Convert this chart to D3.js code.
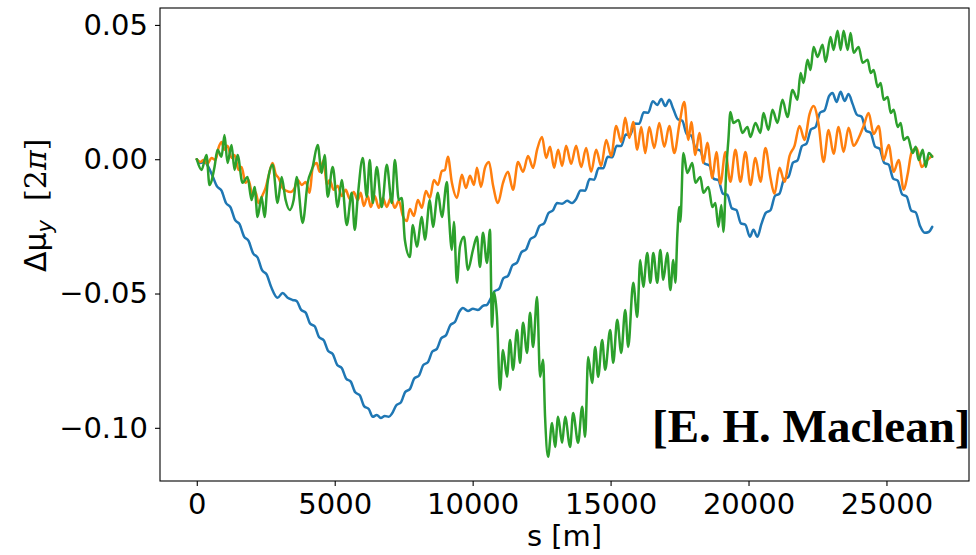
<!DOCTYPE html>
<html><head><meta charset="utf-8">
<script src="https://cdn.jsdelivr.net/npm/d3@7"></script>
<style>body{margin:0;background:#fff} svg{display:block}</style>
</head><body>
<svg id="c" width="976" height="555"></svg>
<script>
const xTicks = [0,5000,10000,15000,20000,25000];
const yTicks = [0.05,0.00,-0.05,-0.10];
const seriesNames = ["blue","orange","green"];
const seriesColors = ["#1f77b4","#ff7f0e","#2ca02c"];

// s [m], Δμy [2π]
const blue = [[0,0],[134,-0.0014],[280,-0.0010],[425,-0.0029],[570,-0.0062],[733,-0.0101],[897,-0.0117],[1060,-0.0163],[1224,-0.0179],[1387,-0.0226],[1550,-0.0242],[1714,-0.0288],[1877,-0.0304],[2041,-0.0350],[2204,-0.0366],[2367,-0.0413],[2531,-0.0429],[2694,-0.0475],[2930,-0.0516],[3112,-0.0498],[3293,-0.0516],[3475,-0.0524],[3620,-0.0528],[3784,-0.0561],[3947,-0.0571],[4110,-0.0612],[4274,-0.0622],[4437,-0.0663],[4601,-0.0674],[4764,-0.0714],[4927,-0.0725],[5091,-0.0766],[5254,-0.0777],[5418,-0.0817],[5581,-0.0828],[5744,-0.0868],[5908,-0.0879],[6071,-0.0920],[6234,-0.0930],[6380,-0.0959],[6525,-0.0952],[6670,-0.0963],[6816,-0.0956],[6961,-0.0959],[7070,-0.0948],[7233,-0.0916],[7396,-0.0906],[7560,-0.0866],[7723,-0.0856],[7887,-0.0816],[8050,-0.0806],[8213,-0.0766],[8377,-0.0756],[8540,-0.0716],[8704,-0.0706],[8867,-0.0666],[9030,-0.0656],[9194,-0.0617],[9357,-0.0606],[9521,-0.0567],[9648,-0.0554],[9829,-0.0565],[10011,-0.0557],[10192,-0.0561],[10374,-0.0546],[10519,-0.0542],[10628,-0.0524],[10791,-0.0492],[10955,-0.0483],[11118,-0.0443],[11282,-0.0434],[11445,-0.0395],[11608,-0.0385],[11772,-0.0346],[11935,-0.0336],[12098,-0.0297],[12262,-0.0287],[12425,-0.0248],[12589,-0.0239],[12752,-0.0200],[12915,-0.0190],[13061,-0.0163],[13242,-0.0166],[13424,-0.0155],[13605,-0.0163],[13751,-0.0148],[13914,-0.0116],[14077,-0.0117],[14241,-0.0074],[14404,-0.0076],[14568,-0.0033],[14731,-0.0034],[14894,0.0009],[15058,0.0007],[15221,0.0050],[15384,0.0049],[15548,0.0092],[15711,0.0090],[15875,0.0133],[16038,0.0132],[16201,0.0175],[16365,0.0173],[16528,0.0216],[16692,0.0202],[16837,0.0224],[16982,0.0198],[17127,0.0221],[17273,0.0187],[17436,0.0149],[17600,0.0143],[17763,0.0093],[17926,0.0088],[18090,0.0038],[18253,0.0032],[18417,-0.0017],[18580,-0.0023],[18743,-0.0073],[18907,-0.0078],[19070,-0.0128],[19234,-0.0133],[19397,-0.0183],[19560,-0.0189],[19724,-0.0239],[19887,-0.0244],[20050,-0.0289],[20178,-0.0263],[20323,-0.0289],[20468,-0.0241],[20632,-0.0199],[20795,-0.0190],[20958,-0.0137],[21122,-0.0128],[21285,-0.0075],[21448,-0.0066],[21612,-0.0013],[21775,-0.0004],[21939,0.0049],[22102,0.0058],[22265,0.0111],[22429,0.0120],[22592,0.0173],[22756,0.0182],[22919,0.0235],[23046,0.0247],[23191,0.0213],[23337,0.0251],[23482,0.0217],[23627,0.0243],[23772,0.0206],[23936,0.0165],[24099,0.0158],[24262,0.0106],[24426,0.0098],[24589,0.0047],[24753,0.0039],[24916,-0.0013],[25079,-0.0020],[25243,-0.0072],[25406,-0.0080],[25570,-0.0131],[25733,-0.0139],[25896,-0.0191],[26060,-0.0198],[26223,-0.0250],[26387,-0.0274],[26532,-0.0271],[26659,-0.0252]];

const orange = [[0,0],[134,-0.0010],[243,-0.0003],[389,-0.0017],[534,0.0005],[679,-0.0003],[788,0.0042],[897,0.0064],[1005,0.0035],[1114,0.0050],[1260,0.0005],[1369,0.0016],[1514,-0.0040],[1623,-0.0029],[1768,-0.0088],[1877,-0.0077],[2023,-0.0137],[2131,-0.0122],[2240,-0.0163],[2386,-0.0133],[2495,-0.0107],[2603,-0.0062],[2749,-0.0014],[2858,-0.0055],[2967,-0.0070],[3112,-0.0107],[3257,-0.0118],[3402,-0.0122],[3548,-0.0107],[3656,-0.0077],[3802,-0.0096],[3947,-0.0085],[4092,-0.0125],[4201,-0.0032],[4346,-0.0014],[4455,-0.0047],[4601,-0.0003],[4710,-0.0096],[4818,-0.0077],[4964,-0.0114],[5109,-0.0099],[5254,-0.0137],[5400,-0.0114],[5545,-0.0148],[5690,-0.0122],[5835,-0.0152],[5944,-0.0125],[6053,-0.0174],[6198,-0.0137],[6307,-0.0178],[6452,-0.0137],[6598,-0.0181],[6743,-0.0144],[6888,-0.0178],[7033,-0.0144],[7179,-0.0181],[7324,-0.0155],[7469,-0.0211],[7614,-0.0230],[7723,-0.0185],[7869,-0.0211],[8014,-0.0152],[8159,-0.0181],[8305,-0.0118],[8450,-0.0144],[8595,-0.0077],[8740,-0.0096],[8885,-0.0044],[8994,-0.0040],[9103,0.0009],[9248,-0.0088],[9430,-0.0144],[9611,-0.0058],[9756,-0.0107],[9902,-0.0062],[10047,-0.0096],[10156,-0.0032],[10301,-0.0103],[10446,-0.0032],[10592,-0.0010],[10737,-0.0096],[10918,-0.0163],[11100,-0.0088],[11281,-0.0047],[11463,-0.0114],[11645,-0.0010],[11826,-0.0047],[12008,0.0012],[12190,-0.0032],[12335,0.0035],[12516,0.0083],[12662,0.0005],[12807,0.0046],[12952,-0.0032],[13098,0.0035],[13243,-0.0025],[13388,0.0050],[13570,-0.0017],[13751,0.0050],[13933,-0.0029],[14114,0.0042],[14296,-0.0047],[14477,0.0035],[14659,-0.0025],[14840,0.0072],[15022,0.0012],[15203,0.0124],[15385,0.0064],[15530,0.0154],[15675,0.0079],[15821,0.0139],[15966,0.0035],[16111,0.0120],[16256,0.0023],[16402,0.0120],[16583,0.0042],[16765,0.0135],[16947,0.0046],[17128,0.0124],[17310,0.0023],[17491,0.0128],[17673,0.0213],[17818,0.0072],[17927,0.0139],[18072,0.0016],[18218,0.0098],[18363,-0.0014],[18508,0.0061],[18690,-0.0070],[18835,0.0027],[18980,-0.0092],[19162,0.0027],[19343,-0.0084],[19525,0.0035],[19707,-0.0084],[19888,0.0027],[20070,-0.0096],[20251,0.0005],[20433,-0.0084],[20614,0.0042],[20796,-0.0070],[20941,-0.0129],[21123,-0.0032],[21304,-0.0084],[21486,0.0012],[21667,0.0050],[21849,0.0124],[22030,0.0072],[22212,0.0168],[22357,0.0198],[22539,0.0131],[22720,-0.0010],[22902,0.0109],[23083,0.0020],[23265,0.0120],[23446,0.0027],[23628,0.0117],[23809,0.0050],[23991,0.0079],[24172,0.0124],[24354,0.0172],[24535,0.0094],[24717,0.0124],[24899,-0.0003],[25080,0.0053],[25262,-0.0047],[25443,-0.0003],[25625,-0.0114],[25770,-0.0055],[25915,0.0027],[26097,0.0042],[26278,-0.0029],[26423,-0.0010],[26569,0.0005],[26659,0.0012]];

const green = [[0,0],[171,-0.0040],[352,0.0016],[461,-0.0096],[643,-0.0029],[752,0.0035],[897,0.0009],[1005,0.0090],[1114,-0.0014],[1260,0.0053],[1369,-0.0040],[1478,0.0016],[1659,-0.0088],[1841,-0.0066],[1986,-0.0152],[2095,-0.0103],[2204,-0.0215],[2349,-0.0140],[2458,-0.0215],[2567,-0.0088],[2749,-0.0021],[2930,-0.0163],[3075,-0.0066],[3221,-0.0152],[3366,-0.0189],[3511,-0.0152],[3620,-0.0066],[3838,-0.0237],[4019,-0.0088],[4201,-0.0029],[4383,0.0053],[4528,-0.0051],[4637,0.0016],[4746,-0.0140],[4927,-0.0029],[5109,-0.0178],[5254,-0.0077],[5436,-0.0245],[5617,-0.0125],[5726,-0.0263],[5835,-0.0140],[6017,0.0005],[6162,-0.0140],[6271,-0.0003],[6380,-0.0163],[6525,-0.0029],[6707,-0.0178],[6888,-0.0021],[7070,-0.0163],[7179,-0.0003],[7324,-0.0152],[7433,-0.0144],[7542,-0.0300],[7723,-0.0364],[7832,-0.0245],[7977,-0.0326],[8159,-0.0215],[8268,-0.0300],[8450,-0.0152],[8559,-0.0252],[8740,-0.0125],[8885,-0.0215],[9067,-0.0085],[9139,-0.0208],[9248,-0.0338],[9321,-0.0233],[9430,-0.0460],[9539,-0.0326],[9684,-0.0289],[9829,-0.0412],[10011,-0.0338],[10156,-0.0289],[10265,-0.0401],[10374,-0.0274],[10519,-0.0386],[10628,-0.0263],[10701,-0.0624],[10773,-0.0494],[10882,-0.0587],[10991,-0.0859],[11100,-0.0710],[11245,-0.0810],[11354,-0.0673],[11463,-0.0784],[11608,-0.0636],[11717,-0.0758],[11826,-0.0609],[11972,-0.0721],[12081,-0.0572],[12190,-0.0699],[12335,-0.0513],[12444,-0.0810],[12553,-0.0747],[12625,-0.0959],[12734,-0.1108],[12879,-0.0982],[12988,-0.1071],[13097,-0.0959],[13243,-0.1056],[13352,-0.0959],[13533,-0.1071],[13642,-0.0945],[13824,-0.1056],[13969,-0.0922],[14078,-0.1033],[14187,-0.0736],[14332,-0.0833],[14441,-0.0699],[14550,-0.0810],[14695,-0.0673],[14804,-0.0784],[14986,-0.0636],[15095,-0.0758],[15240,-0.0598],[15385,-0.0721],[15530,-0.0561],[15639,-0.0699],[15821,-0.0460],[15966,-0.0587],[16075,-0.0375],[16184,-0.0475],[16330,-0.0349],[16439,-0.0460],[16548,-0.0349],[16693,-0.0460],[16802,-0.0338],[16911,-0.0449],[17056,-0.0349],[17165,-0.0487],[17274,-0.0375],[17347,-0.0460],[17419,-0.0282],[17492,-0.0178],[17528,-0.0233],[17637,0.0023],[17782,-0.0051],[17963,-0.0014],[18072,-0.0088],[18254,-0.0066],[18363,-0.0125],[18544,-0.0103],[18690,-0.0178],[18798,-0.0163],[18907,-0.0252],[19016,-0.0170],[19089,-0.0271],[19198,-0.0029],[19270,0.0072],[19343,0.0176],[19452,0.0135],[19634,0.0146],[19779,0.0098],[19960,0.0120],[20069,0.0083],[20251,0.0135],[20432,0.0098],[20541,0.0172],[20723,0.0109],[20868,0.0184],[21050,0.0135],[21231,0.0221],[21413,0.0157],[21594,0.0258],[21776,0.0221],[21885,0.0321],[21994,0.0284],[22139,0.0370],[22248,0.0332],[22357,0.0418],[22502,0.0381],[22684,0.0426],[22793,0.0362],[22974,0.0455],[23083,0.0407],[23229,0.0478],[23337,0.0407],[23446,0.0478],[23592,0.0407],[23700,0.0470],[23809,0.0396],[23991,0.0418],[24136,0.0359],[24318,0.0370],[24427,0.0321],[24536,0.0332],[24681,0.0269],[24790,0.0284],[24899,0.0221],[25044,0.0232],[25153,0.0172],[25262,0.0184],[25407,0.0120],[25516,0.0135],[25625,0.0072],[25770,0.0083],[25952,0.0023],[26061,0.0046],[26170,-0.0003],[26315,0.0035],[26424,-0.0029],[26533,0.0023],[26659,0.0009]];

const W = 976, H = 555;
const L = 160, R = 969, T = 8, B = 481;
const FONT = "'DejaVu Sans', sans-serif";

const svg = d3.select("#c");
const x = d3.scaleLinear().domain([-1333, 27992]).range([L, R]);
const y = d3.scaleLinear().domain([-0.1198, 0.0563]).range([B, T]);

const line = d3.line().curve(d3.curveMonotoneX).x(d => x(d[0])).y(d => y(d[1]));
const data = [blue, orange, green];
const g = svg.append("g");
data.forEach((d, i) => {
  g.append("path").datum(d)
    .attr("d", line)
    .attr("fill", "none")
    .attr("stroke", seriesColors[i])
    .attr("stroke-width", 2.5)
    .attr("stroke-linejoin", "round")
    .attr("stroke-linecap", "round");
});

// annotation
svg.append("text")
  .attr("x", 652).attr("y", 442)
  .attr("font-family", "'Liberation Serif', 'Times New Roman', serif")
  .attr("font-weight", "bold")
  .attr("font-size", 47)
  .attr("fill", "#000")
  .text("[E. H. Maclean]");

// axes
const xAxis = d3.axisBottom(x).tickValues(xTicks).tickSize(5).tickPadding(7).tickFormat(d3.format("d"));
const yAxis = d3.axisLeft(y).tickValues(yTicks).tickSize(5).tickPadding(7).tickFormat(d3.format(".2f"));

const gx = svg.append("g").attr("transform", `translate(0,${B})`).call(xAxis);
const gy = svg.append("g").attr("transform", `translate(${L},0)`).call(yAxis);
[gx, gy].forEach(a => {
  a.select(".domain").remove();
  a.selectAll("line").attr("stroke", "#000").attr("stroke-width", 1.1);
  a.selectAll("text").attr("font-family", FONT).attr("font-size", 29).attr("fill", "#000");
});

// frame
svg.append("rect")
  .attr("x", L).attr("y", T).attr("width", R - L).attr("height", B - T)
  .attr("fill", "none").attr("stroke", "#000").attr("stroke-width", 1.1);

// axis labels
svg.append("text")
  .attr("x", (L + R) / 2).attr("y", 546)
  .attr("text-anchor", "middle")
  .attr("font-family", FONT).attr("font-size", 29).attr("fill", "#000")
  .text("s [m]");

const yl = svg.append("text")
  .attr("transform", "translate(46,272) rotate(-90)")
  .attr("font-family", FONT).attr("font-size", 30).attr("fill", "#000");
yl.append("tspan").text("Δμ");
yl.append("tspan").attr("font-style", "italic").attr("font-size", 21).attr("dy", 6).text("y");
yl.append("tspan").attr("dy", -6).text("\u00a0\u00a0");
yl.append("tspan").attr("font-family", "'DejaVu Serif', serif").text("[2");
yl.append("tspan").attr("font-family", "'DejaVu Serif', serif").attr("font-style", "italic").text("π");
yl.append("tspan").attr("font-family", "'DejaVu Serif', serif").text("]");
</script>
</body></html>
